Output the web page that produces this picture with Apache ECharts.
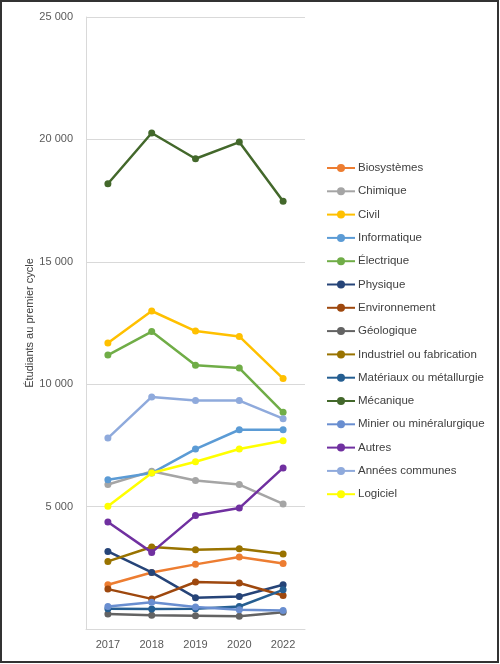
<!DOCTYPE html>
<html>
<head>
<meta charset="utf-8">
<script src="https://cdn.jsdelivr.net/npm/echarts@6/dist/echarts.min.js"></script>
<style>
html,body{margin:0;padding:0;background:#fff;}
#c{width:500px;height:664px;}
</style>
</head>
<body>
<div id="c"></div>
<script>
const years = ['2017', '2018', '2019', '2020', '2022'];
const yTicks = [0, 5000, 10000, 15000, 20000, 25000];
const yTitle = 'Étudiants au premier cycle';

const biosystemes = [1810, 2310, 2640, 2940, 2680];
const chimique = [5900, 6440, 6070, 5900, 5110];
const civil = [11680, 12990, 12170, 11950, 10230];
const informatique = [6100, 6370, 7350, 8140, 8140];
const electrique = [11190, 12150, 10770, 10660, 8850];
const physique = [3170, 2310, 1280, 1330, 1810];
const environnement = [1630, 1230, 1920, 1880, 1370];
const geologique = [610, 560, 540, 520, 680];
const industriel = [2760, 3350, 3240, 3280, 3060];
const materiaux = [830, 820, 830, 920, 1600];
const mecanique = [18190, 20260, 19210, 19890, 17470];
const minier = [920, 1090, 900, 790, 760];
const autres = [4370, 3130, 4640, 4940, 6580];
const anneesCommunes = [7800, 9480, 9330, 9330, 8590];
const logiciel = [5010, 6370, 6830, 7350, 7690];

const seriesNames = ['Biosystèmes','Chimique','Civil','Informatique','Électrique','Physique','Environnement','Géologique','Industriel ou fabrication','Matériaux ou métallurgie','Mécanique','Minier ou minéralurgique','Autres','Années communes','Logiciel'];
const seriesData = [biosystemes, chimique, civil, informatique, electrique, physique, environnement, geologique, industriel, materiaux, mecanique, minier, autres, anneesCommunes, logiciel];
const colors = ['#ED7D31','#A5A5A5','#FFC000','#5B9BD5','#70AD47','#264478','#9E480E','#636363','#997300','#255E91','#43682B','#698ED0','#7030A0','#8FAADC','#FFFF00'];

const font = 'Liberation Sans, Arial, sans-serif';

const chart = echarts.init(document.getElementById('c'), null, {renderer: 'canvas'});
chart.setOption({
  animation: false,
  backgroundColor: '#fff',
  color: colors,
  graphic: [{
    type: 'rect', silent: true, z: 100,
    shape: {x: 1, y: 1, width: 497, height: 661},
    style: {fill: 'none', stroke: '#333', lineWidth: 2}
  }],
  grid: {left: 86, top: 17, right: 195, bottom: 35, containLabel: false},
  legend: {
    orient: 'vertical',
    left: 326,
    top: 162,
    padding: 0,
    itemWidth: 28,
    itemHeight: 10,
    itemGap: 11.3,
    textStyle: {fontFamily: font, fontSize: 11.5, color: '#404040', padding: [0,0,0,-2]},
    data: seriesNames
  },
  xAxis: {
    type: 'category',
    data: years,
    boundaryGap: true,
    axisLine: {show: true, lineStyle: {color: '#d9d9d9', width: 1}},
    axisTick: {show: false},
    axisLabel: {fontFamily: font, fontSize: 11, color: '#595959', margin: 10},
    splitLine: {show: false}
  },
  yAxis: {
    type: 'value',
    min: yTicks[0],
    max: yTicks[yTicks.length - 1],
    interval: yTicks[1] - yTicks[0],
    name: yTitle,
    nameLocation: 'middle',
    nameGap: 50,
    nameTextStyle: {fontFamily: font, fontSize: 11, color: '#404040'},
    axisLine: {show: true, lineStyle: {color: '#d9d9d9', width: 1}},
    axisTick: {show: false},
    axisLabel: {
      fontFamily: font, fontSize: 11, color: '#595959', margin: 13,
      showMinLabel: false,
      formatter: v => v === 0 ? '' : String(v).replace(/\B(?=(\d{3})+(?!\d))/g, ' ')
    },
    splitLine: {show: true, lineStyle: {color: '#d9d9d9', width: 1}}
  },
  series: seriesNames.map((n, i) => ({
    name: n,
    type: 'line',
    data: seriesData[i],
    symbol: 'circle',
    symbolSize: 7,
    lineStyle: {width: 2.5, color: colors[i]},
    itemStyle: {color: colors[i]},
    z: 2 + i
  }))
});
</script>
</body>
</html>
